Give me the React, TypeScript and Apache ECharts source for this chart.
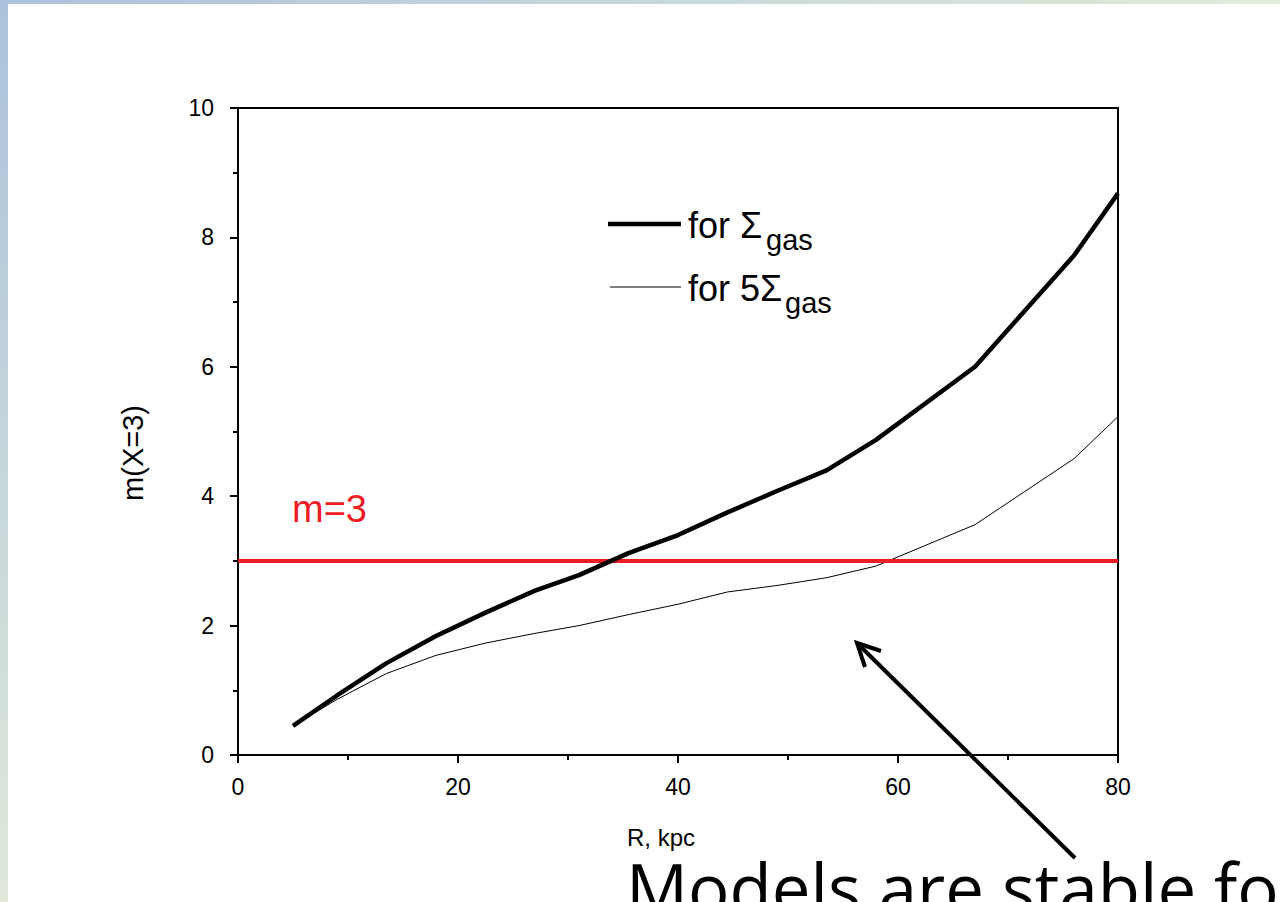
import { useEffect, useRef } from "react";
import * as echarts from "echarts";

// R, kpc
const radius = [5, 9, 13.5, 18, 22.5, 27, 31, 35.5, 40, 44.5, 49, 53.5, 58, 67, 76, 80];
// m(X=3) for Σgas (thick line)
const mSigmaGas = [0.45, 0.92, 1.42, 1.84, 2.2, 2.54, 2.78, 3.12, 3.4, 3.75, 4.08, 4.4, 4.87, 6.0, 7.72, 8.68];
// m(X=3) for 5Σgas (thin line)
const m5SigmaGas = [0.45, 0.86, 1.26, 1.54, 1.73, 1.88, 2.0, 2.17, 2.33, 2.52, 2.62, 2.74, 2.92, 3.56, 4.58, 5.23];
// stability threshold m = 3
const thresholdX = [0, 80];
const thresholdY = [3, 3];

const FONT = "'Liberation Sans', Arial, sans-serif";

export default function App() {
  const ref = useRef<HTMLDivElement>(null);
  useEffect(() => {
    if (!ref.current) return;
    const chart = echarts.init(ref.current, null, { renderer: "svg" });
    const headX = 857, headY = 643;
    chart.setOption({
      animation: false,
      backgroundColor: "#ffffff",
      grid: {
        left: 238, right: 162, top: 108, bottom: 147,
        show: true, borderColor: "#000", borderWidth: 2, backgroundColor: "transparent",
      },
      xAxis: {
        type: "value", min: 0, max: 80, interval: 20,
        axisLine: { show: true, onZero: false, lineStyle: { color: "#000", width: 2 } },
        axisTick: { show: true, inside: false, length: 8, lineStyle: { color: "#000", width: 2 } },
        minorTick: { show: true, splitNumber: 2, length: 5, lineStyle: { color: "#000", width: 2 } },
        splitLine: { show: false },
        axisLabel: { color: "#000", fontFamily: FONT, fontSize: 23, margin: 20 },
      },
      yAxis: {
        type: "value", min: 0, max: 10, interval: 2,
        axisLine: { show: true, onZero: false, lineStyle: { color: "#000", width: 2 } },
        axisTick: { show: true, inside: false, length: 8, lineStyle: { color: "#000", width: 2 } },
        minorTick: { show: true, splitNumber: 2, length: 5, lineStyle: { color: "#000", width: 2 } },
        splitLine: { show: false },
        axisLabel: { color: "#000", fontFamily: FONT, fontSize: 23, margin: 24 },
      },
      series: [
        {
          type: "line", name: "for 5Σgas", data: radius.map((r, i) => [r, m5SigmaGas[i]]),
          showSymbol: false, lineStyle: { color: "#000", width: 1 }, z: 2,
        },
        {
          type: "line", name: "m=3", data: thresholdX.map((r, i) => [r, thresholdY[i]]),
          showSymbol: false, lineStyle: { color: "#ee1c24", width: 4 }, z: 3,
        },
        {
          type: "line", name: "for Σgas", data: radius.map((r, i) => [r, mSigmaGas[i]]),
          showSymbol: false, lineStyle: { color: "#000", width: 4.5 }, z: 4,
        },
      ],
      graphic: [
        {
          type: "rect", shape: { x: 0, y: 0, width: 8, height: 902 }, z: 100,
          style: { fill: new echarts.graphic.LinearGradient(0, 0, 0, 1, [
            { offset: 0, color: "#abc2dc" }, { offset: 1, color: "#dfe8d9" }]) },
        },
        {
          type: "rect", shape: { x: 0, y: 0, width: 1280, height: 4 }, z: 100,
          style: { fill: new echarts.graphic.LinearGradient(0, 0, 1, 0, [
            { offset: 0, color: "#abc2dc" }, { offset: 1, color: "#e2ebd9" }]) },
        },
        // legend
        { type: "line", shape: { x1: 608, y1: 224, x2: 681, y2: 224 }, style: { stroke: "#000", lineWidth: 4.5 }, z: 10 },
        { type: "text", x: 688, y: 225, z: 10, style: { text: "for Σ", font: `36px ${FONT}`, fill: "#000", textVerticalAlign: "middle" } },
        { type: "text", x: 766, y: 240, z: 10, style: { text: "gas", font: `29px ${FONT}`, fill: "#000", textVerticalAlign: "middle" } },
        { type: "line", shape: { x1: 610, y1: 287, x2: 681, y2: 287 }, style: { stroke: "#000", lineWidth: 1 }, z: 10 },
        { type: "text", x: 688, y: 288, z: 10, style: { text: "for 5Σ", font: `36px ${FONT}`, fill: "#000", textVerticalAlign: "middle" } },
        { type: "text", x: 785, y: 303, z: 10, style: { text: "gas", font: `29px ${FONT}`, fill: "#000", textVerticalAlign: "middle" } },
        // m=3 label
        { type: "text", x: 292, y: 509, z: 10, style: { text: "m=3", font: `38px ${FONT}`, fill: "#ee1c24", textVerticalAlign: "middle" } },
        // axis names
        { type: "text", x: 133, y: 453, rotation: Math.PI / 2, z: 10,
          style: { text: "m(X=3)", font: `29px ${FONT}`, fill: "#000", textAlign: "center", textVerticalAlign: "middle" } },
        { type: "text", x: 661, y: 837, z: 10,
          style: { text: "R, kpc", font: `24px ${FONT}`, fill: "#000", textAlign: "center", textVerticalAlign: "middle" } },
        // arrow
        { type: "line", shape: { x1: 1075, y1: 858, x2: headX + 2, y2: headY + 2 }, style: { stroke: "#000", lineWidth: 4 }, z: 10 },
        { type: "polyline", shape: { points: [[headX + 8, headY + 24], [headX, headY], [headX + 24, headY + 8]] },
          style: { stroke: "#000", lineWidth: 4, fill: "none", lineJoin: "miter" }, z: 10 },
        // caption
        { type: "text", x: 626, y: 921, z: 10,
          style: { text: "Models are stable for", font: `69px 'Open Sans', Calibri, sans-serif`, fill: "#000", textVerticalAlign: "bottom" } },
      ],
    });
    return () => chart.dispose();
  }, []);
  return <div ref={ref} style={{ position: "fixed", left: 0, top: 0, width: 1280, height: 902 }} />;
}
